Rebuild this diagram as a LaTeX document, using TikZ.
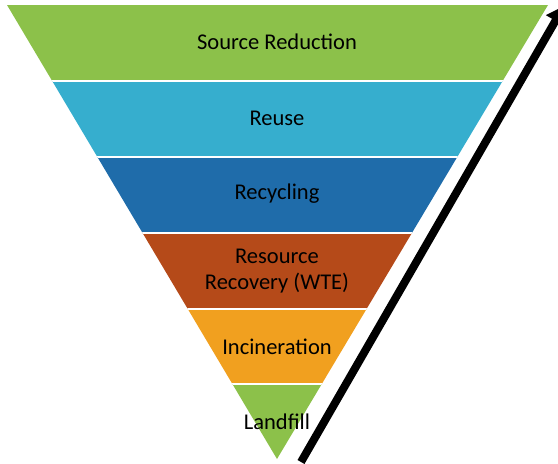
\documentclass[tikz,border=0pt]{standalone}
\usepackage{fontspec}
\setmainfont{Carlito}
\usetikzlibrary{arrows.meta}
\definecolor{cgreen}{RGB}{140,193,74}
\definecolor{cblue}{RGB}{54,174,206}
\definecolor{cdblue}{RGB}{31,108,170}
\definecolor{crust}{RGB}{181,74,25}
\definecolor{corange}{RGB}{241,160,31}
\tikzset{
  band/.style={fill=#1, draw=none},
  sep/.style={draw=white, line width=2pt},
  lbl/.style={font=\fontsize{22.5}{25.5}\selectfont, align=center, text=black, inner sep=0pt},
  bigarrow/.style={line width=8pt, -{Triangle[length=17pt,width=21pt]}}
}
\begin{document}
\begin{tikzpicture}[x=1pt,y=-1pt]
\useasboundingbox (0,0) rectangle (558,464);
\coordinate (TL) at (7,5);
\coordinate (TR) at (548,5);
\coordinate (AP) at (277,459);
\begin{scope}
  \clip (TL) -- (TR) -- (AP) -- cycle;
  \fill[band=cgreen]  (0,0) rectangle (558,80.5);
  \fill[band=cblue]   (0,80.5) rectangle (558,156.5);
  \fill[band=cdblue]  (0,156.5) rectangle (558,232.5);
  \fill[band=crust]   (0,232.5) rectangle (558,308.5);
  \fill[band=corange] (0,308.5) rectangle (558,384);
  \fill[band=cgreen]  (0,384) rectangle (558,464);
  \draw[sep] (0,80.5) -- (558,80.5);
  \draw[sep] (0,156.5) -- (558,156.5);
  \draw[sep] (0,232.5) -- (558,232.5);
  \draw[sep] (0,308.5) -- (558,308.5);
  \draw[sep] (0,384) -- (558,384);
\end{scope}
\node[lbl] (src) at (277,42) {Source Reduction};
\node[lbl] (reuse) at (277,118) {Reuse};
\node[lbl] (recy) at (277,194) {Recycling};
\node[lbl] (rec) at (277,271) {Resource\\Recovery (WTE)};
\node[lbl] (inc) at (277,347) {Incineration};
\node[lbl] (land) at (277,422) {Landfill};
\coordinate (arS) at (301,462);
\coordinate (arE) at (564,6);
\draw[bigarrow] (arS) -- (arE);
\end{tikzpicture}
\end{document}
